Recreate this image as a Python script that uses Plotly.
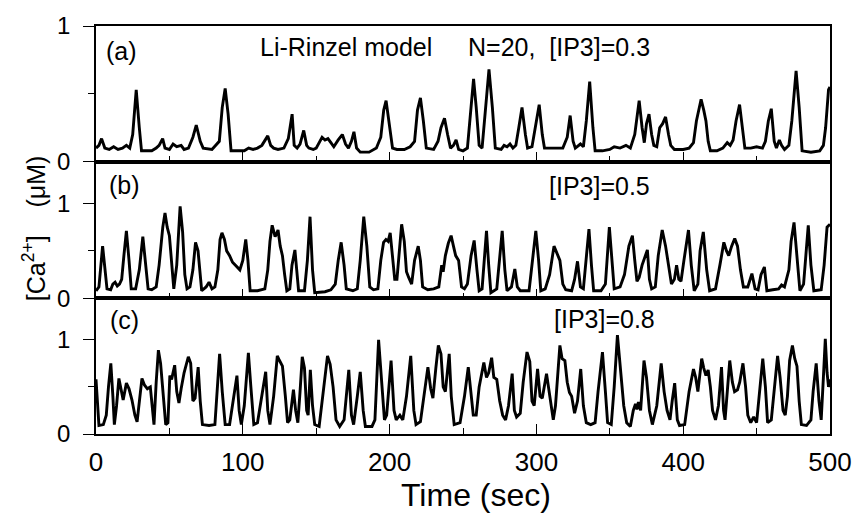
import plotly.graph_objects as go

# ---------------- data ----------------
t_a = [0, 2, 3.8, 6, 9, 12, 15, 18, 20.7, 23, 25, 27.4, 29.5, 31, 38, 41, 43, 45.4, 47, 50,
       52.5, 55, 58, 60, 63, 66, 68.3, 71, 73, 79, 84, 86, 88, 90, 92, 101, 104, 107, 110, 113,
       117, 119, 121, 124, 128, 131, 133.6, 135, 137, 139, 141.5, 143.5, 145, 148, 150, 152, 154,
       156, 158, 160, 162, 165, 167.8, 170, 172, 174, 175.7, 177.5, 180, 186, 191, 194, 196,
       197.6, 199, 201, 202, 205, 210, 214, 217, 219, 221, 223, 225, 230, 233, 235, 237.4, 239.5,
       241.5, 243.5, 245.3, 247, 250, 253, 255, 257.2, 259, 261, 263, 265, 267.7, 270, 272, 276,
       278, 280, 282, 284, 286, 288, 290.2, 292.5, 294, 297, 299, 301.9, 304, 305.5, 312, 318,
       321, 323, 325, 326.5, 330, 332, 334, 336.3, 338.5, 340, 345, 350, 353, 357, 361, 364,
       367, 370, 372, 373.5, 375, 376.7, 378.5, 380, 382, 384, 386, 388, 390, 391.5, 394, 400,
       404, 407, 409, 412.2, 414, 415.5, 417, 418.5, 423, 427, 430, 432, 434, 436, 438.4, 440.5,
       442, 446, 450, 454, 456, 458, 460, 462, 463.5, 465.5, 467, 469, 472, 474, 476.9, 479,
       481, 487, 493, 495.5, 497, 499, 500]
ca_a = [0.10, 0.12, 0.17, 0.10, 0.09, 0.11, 0.09, 0.10, 0.12, 0.10, 0.20, 0.53, 0.25, 0.08, 0.08,
        0.10, 0.12, 0.17, 0.10, 0.09, 0.13, 0.11, 0.12, 0.09, 0.10, 0.18, 0.27, 0.15, 0.10, 0.09,
        0.15, 0.40, 0.54, 0.35, 0.08, 0.08, 0.10, 0.09, 0.10, 0.12, 0.19, 0.12, 0.10, 0.09, 0.10,
        0.17, 0.35, 0.12, 0.10, 0.13, 0.23, 0.12, 0.10, 0.09, 0.10, 0.14, 0.18, 0.16, 0.17, 0.14,
        0.11, 0.16, 0.20, 0.13, 0.10, 0.15, 0.22, 0.10, 0.07, 0.07, 0.10, 0.18, 0.38, 0.45, 0.35,
        0.20, 0.10, 0.09, 0.09, 0.11, 0.15, 0.38, 0.47, 0.30, 0.10, 0.09, 0.15, 0.25, 0.32, 0.20,
        0.10, 0.12, 0.16, 0.09, 0.08, 0.10, 0.35, 0.61, 0.40, 0.12, 0.10, 0.35, 0.68, 0.40, 0.10,
        0.09, 0.12, 0.11, 0.13, 0.10, 0.12, 0.25, 0.40, 0.20, 0.10, 0.11, 0.25, 0.42, 0.20, 0.10,
        0.10, 0.10, 0.18, 0.34, 0.15, 0.10, 0.13, 0.11, 0.30, 0.59, 0.25, 0.08, 0.08, 0.09, 0.11,
        0.10, 0.12, 0.10, 0.20, 0.45, 0.25, 0.14, 0.28, 0.35, 0.20, 0.12, 0.11, 0.25, 0.28, 0.33,
        0.20, 0.12, 0.09, 0.09, 0.10, 0.14, 0.30, 0.46, 0.38, 0.30, 0.15, 0.08, 0.08, 0.10, 0.14,
        0.12, 0.16, 0.30, 0.42, 0.25, 0.10, 0.10, 0.11, 0.10, 0.15, 0.30, 0.39, 0.15, 0.10, 0.16,
        0.12, 0.09, 0.12, 0.30, 0.67, 0.40, 0.08, 0.07, 0.08, 0.12, 0.25, 0.53, 0.55]

t_b = [0, 2, 4.5, 6, 7.5, 10, 11.5, 13, 14.5, 16, 17.5, 19, 20.7, 22.5, 24, 27, 29.5, 31.9, 34,
       35.5, 38, 41, 43, 45.5, 47, 48.5, 50, 51.5, 53, 55, 57.3, 59, 60.5, 62, 64, 66, 67.8, 69.5,
       71, 72, 75, 77, 79, 81, 83, 84.5, 85.8, 87.5, 89, 91, 93, 94.8, 96.5, 98, 100, 102, 103.5,
       105, 110, 115, 117, 118.5, 120, 121, 122, 123, 124, 125.5, 127, 128.5, 130, 132, 133.5,
       135.5, 137, 138, 142, 144, 145.8, 147.5, 149, 156, 160, 163, 165, 167, 169, 170.5, 175,
       178, 180, 182.4, 184.5, 186.5, 189, 192, 194, 195.9, 197.5, 199, 200.4, 202, 203.5, 205,
       206.5, 208.2, 210, 211.5, 213, 215, 217, 219.5, 221, 222.5, 226, 230, 233.5, 235.5, 236.5,
       238, 240, 241.9, 243.5, 245, 247, 249, 251, 253, 255.5, 257.6, 259.5, 261, 263, 265, 266,
       267.5, 269, 273, 275, 276.7, 278.5, 280, 283, 285.3, 287, 289, 295, 297.5, 299.6, 301.5,
       303, 306, 309, 312, 314, 316, 318, 320, 324, 326, 328, 330, 332, 334, 335.8, 337.5, 339,
       344, 347, 349.7, 351.5, 353, 357, 360, 363, 365.4, 367, 368.5, 370, 372, 375.6, 377, 378.5,
       381, 383, 385.7, 388, 390, 392, 394, 395.5, 397, 398.5, 400.5, 403.6, 405.5, 407.5, 410,
       411.5, 413.7, 416, 418, 422, 425, 427.7, 429.5, 431, 433, 435.1, 437, 439, 441, 444, 446.8,
       449, 451, 453, 455.3, 457, 461, 465, 467, 469, 472, 473.5, 475.5, 477.5, 479.5, 482, 485.2,
       487, 489, 494, 496, 498, 500]
ca_b = [0.08, 0.12, 0.55, 0.30, 0.10, 0.09, 0.15, 0.17, 0.13, 0.15, 0.20, 0.45, 0.71, 0.40, 0.10,
        0.10, 0.30, 0.65, 0.35, 0.10, 0.09, 0.12, 0.35, 0.75, 0.90, 0.75, 0.66, 0.35, 0.10, 0.35,
        0.97, 0.70, 0.25, 0.10, 0.12, 0.30, 0.59, 0.50, 0.20, 0.08, 0.12, 0.17, 0.10, 0.12, 0.30,
        0.62, 0.69, 0.62, 0.50, 0.45, 0.38, 0.35, 0.33, 0.30, 0.40, 0.62, 0.40, 0.08, 0.08, 0.10,
        0.30, 0.60, 0.77, 0.70, 0.65, 0.68, 0.72, 0.55, 0.45, 0.25, 0.08, 0.10, 0.35, 0.51, 0.25,
        0.08, 0.08, 0.40, 0.86, 0.30, 0.06, 0.07, 0.09, 0.15, 0.40, 0.59, 0.35, 0.10, 0.08, 0.10,
        0.40, 0.86, 0.55, 0.12, 0.09, 0.10, 0.40, 0.59, 0.62, 0.60, 0.69, 0.45, 0.20, 0.20, 0.50,
        0.78, 0.60, 0.28, 0.22, 0.15, 0.40, 0.55, 0.40, 0.12, 0.09, 0.10, 0.12, 0.35, 0.28, 0.45,
        0.58, 0.66, 0.55, 0.45, 0.40, 0.12, 0.10, 0.15, 0.45, 0.61, 0.30, 0.08, 0.10, 0.50, 0.71,
        0.35, 0.06, 0.10, 0.45, 0.71, 0.30, 0.08, 0.12, 0.31, 0.12, 0.08, 0.08, 0.40, 0.71, 0.40,
        0.08, 0.10, 0.25, 0.55, 0.47, 0.40, 0.15, 0.09, 0.08, 0.20, 0.39, 0.12, 0.10, 0.45, 0.73,
        0.35, 0.08, 0.08, 0.15, 0.75, 0.35, 0.10, 0.12, 0.25, 0.55, 0.66, 0.40, 0.18, 0.22, 0.35,
        0.51, 0.20, 0.10, 0.12, 0.45, 0.72, 0.55, 0.35, 0.15, 0.20, 0.35, 0.20, 0.18, 0.40, 0.72,
        0.35, 0.08, 0.15, 0.50, 0.70, 0.30, 0.08, 0.10, 0.35, 0.59, 0.50, 0.45, 0.55, 0.63, 0.55,
        0.30, 0.12, 0.12, 0.26, 0.10, 0.09, 0.25, 0.33, 0.08, 0.09, 0.10, 0.14, 0.12, 0.30, 0.60,
        0.80, 0.40, 0.08, 0.15, 0.77, 0.35, 0.08, 0.09, 0.35, 0.75, 0.78]

t_c = [0, 1, 2, 5, 7, 8.5, 10.1, 11.5, 12.5, 14, 15.6, 17, 18.5, 20.7, 22.5, 24.5, 26.5, 28, 30,
       31.3, 33, 35, 37, 38.5, 39.5, 41, 42.5, 44, 46, 47.5, 49, 50.3, 51.5, 53.6, 55, 56.5, 58, 60,
       62.9, 64.5, 66, 67.5, 69.6, 71, 72.5, 77, 81, 82.5, 84.2, 86, 88, 91, 94, 96, 97.5, 99, 101,
       103.8, 105.5, 107.5, 110, 113, 115.6, 117, 118.5, 121, 123.5, 125, 127, 129, 130.5, 132,
       134.5, 136, 137.5, 139, 140.5, 142, 143.5, 144.5, 146, 147.5, 149, 152, 155, 157.7, 159.5,
       161.5, 163.5, 166, 169, 172.2, 174, 175.5, 178, 180, 182, 183.5, 188, 190, 192.5, 194.5,
       196.5, 198, 201, 203, 204.5, 207, 209, 211.5, 214.4, 216.5, 218, 221, 224, 226.1, 228, 229.5,
       231.5, 233.2, 235, 236.5, 238, 240.6, 242, 244, 248, 251, 253.6, 255.5, 257, 259, 261, 264.2,
       266, 267.5, 269.5, 271, 273, 275, 277, 279, 281, 283.5, 285, 286.5, 289, 291, 293.6, 295.5,
       297, 298.5, 300.8, 302.5, 304, 306.9, 308.5, 310, 311.5, 313, 316, 317.5, 319.4, 321, 322.5,
       324, 326, 328, 330.2, 332, 334, 337, 340, 342, 345, 347, 348.5, 351, 353, 355.2, 357, 359.5,
       361.5, 364, 366, 367.5, 368.5, 369.5, 371, 373.3, 375, 377, 379, 382, 385, 387, 389, 391,
       392.5, 394.2, 396, 397.5, 401, 404, 407, 408.5, 410, 411.5, 412.6, 414, 415.5, 417, 418.5,
       420, 422, 424, 426.1, 427.5, 428.5, 431.7, 433.5, 435, 437, 438.5, 440.7, 442.5, 444, 446,
       448, 450, 452, 454.2, 456, 457.5, 460, 462, 464.3, 466, 468, 469.5, 471, 472.5, 474.4, 476,
       477.5, 479, 480.5, 484, 487, 488.5, 490.6, 492.5, 494, 495.5, 496.8, 498, 499, 500]
ca_c = [0.58, 0.30, 0.09, 0.10, 0.20, 0.50, 0.75, 0.40, 0.10, 0.30, 0.59, 0.48, 0.36, 0.54, 0.48,
        0.36, 0.20, 0.13, 0.40, 0.59, 0.52, 0.48, 0.50, 0.20, 0.10, 0.55, 0.89, 0.75, 0.40, 0.10,
        0.12, 0.62, 0.58, 0.73, 0.45, 0.33, 0.48, 0.65, 0.82, 0.75, 0.35, 0.38, 0.71, 0.35, 0.10,
        0.09, 0.10, 0.50, 0.85, 0.45, 0.10, 0.10, 0.40, 0.62, 0.25, 0.10, 0.30, 0.86, 0.50, 0.10,
        0.12, 0.40, 0.66, 0.25, 0.10, 0.40, 0.83, 0.78, 0.72, 0.40, 0.12, 0.15, 0.47, 0.25, 0.12,
        0.45, 0.82, 0.70, 0.25, 0.20, 0.68, 0.30, 0.10, 0.08, 0.45, 0.83, 0.74, 0.50, 0.15, 0.08,
        0.15, 0.68, 0.20, 0.10, 0.40, 0.66, 0.25, 0.08, 0.08, 0.15, 1.00, 0.60, 0.15, 0.20, 0.78,
        0.25, 0.15, 0.20, 0.15, 0.40, 0.83, 0.25, 0.10, 0.13, 0.45, 0.71, 0.48, 0.38, 0.70, 0.94,
        0.85, 0.50, 0.45, 0.85, 0.40, 0.10, 0.12, 0.40, 0.71, 0.40, 0.20, 0.20, 0.50, 0.76, 0.60,
        0.65, 0.81, 0.60, 0.58, 0.35, 0.20, 0.15, 0.30, 0.64, 0.25, 0.18, 0.22, 0.55, 0.87, 0.77,
        0.35, 0.30, 0.69, 0.40, 0.38, 0.64, 0.45, 0.30, 0.15, 0.30, 0.94, 0.80, 0.78, 0.55, 0.44,
        0.40, 0.22, 0.35, 0.69, 0.30, 0.12, 0.10, 0.12, 0.45, 0.87, 0.45, 0.12, 0.10, 0.50, 1.05,
        0.75, 0.30, 0.12, 0.08, 0.25, 0.32, 0.26, 0.34, 0.25, 0.78, 0.60, 0.25, 0.10, 0.30, 0.75,
        0.45, 0.25, 0.15, 0.35, 0.54, 0.15, 0.09, 0.10, 0.45, 0.69, 0.60, 0.45, 0.65, 0.80, 0.70,
        0.62, 0.68, 0.50, 0.25, 0.15, 0.30, 0.71, 0.25, 0.15, 0.78, 0.55, 0.45, 0.47, 0.55, 0.75,
        0.50, 0.20, 0.12, 0.18, 0.12, 0.45, 0.80, 0.50, 0.12, 0.15, 0.50, 0.83, 0.60, 0.25, 0.20,
        0.40, 0.78, 0.94, 0.80, 0.72, 0.35, 0.10, 0.09, 0.15, 0.45, 0.75, 0.35, 0.15, 0.60, 1.01,
        0.65, 0.50, 0.58]

x_ticks = [0, 100, 200, 300, 400, 500]
y_ticks = [0, 1]
panel_labels = ["(a)", "(b)", "(c)"]
ip3_labels = ["N=20,\u00a0\u00a0[IP3]=0.3", "[IP3]=0.5", "[IP3]=0.8"]

# ---------------- figure ----------------
FONT = "Arial, Liberation Sans, sans-serif"
line = dict(color="black", width=2.9)

fig = go.Figure()
fig.add_trace(go.Scatter(x=t_c, y=ca_c, mode="lines", line=line, xaxis="x", yaxis="y"))
fig.add_trace(go.Scatter(x=t_b, y=ca_b, mode="lines", line=line, xaxis="x2", yaxis="y2"))
fig.add_trace(go.Scatter(x=t_a, y=ca_a, mode="lines", line=line, xaxis="x3", yaxis="y3"))

def xax(anchor, labels):
    return dict(domain=[0, 1], anchor=anchor, range=[0, 500], showline=True, mirror=True,
                linecolor="black", linewidth=1.6, ticks="inside", tickvals=x_ticks,
                ticklen=10, tickwidth=1.4, tickcolor="black", showgrid=False, zeroline=False,
                showticklabels=labels, ticklabelstandoff=4,
                tickfont=dict(family=FONT, size=26, color="black"),
                minor=dict(dtick=50, tick0=0, ticks="inside", ticklen=6, tickwidth=1.4,
                           tickcolor="black", showgrid=False))

def yax(anchor, dom, top):
    return dict(domain=dom, anchor=anchor, range=[0, top], showline=True, mirror=True,
                linecolor="black", linewidth=1.6, ticks="outside", tickvals=y_ticks,
                ticklen=11, tickwidth=1.4, tickcolor="black", showgrid=False, zeroline=False,
                tickfont=dict(family=FONT, size=24, color="black"), ticklabelstandoff=8,
                minor=dict(tickvals=[0.5], ticks="outside", ticklen=6, tickwidth=1.4,
                           tickcolor="black", showgrid=False))

fig.update_layout(
    width=864, height=516,
    margin=dict(l=96, r=26, t=25, b=82),
    plot_bgcolor="white", paper_bgcolor="white", showlegend=False,
    xaxis=xax("y", True),
    xaxis2=dict(xax("y2", False), matches="x"),
    xaxis3=dict(xax("y3", False), matches="x"),
    yaxis=yax("x", [0, 0.3325], 1.44),
    yaxis2=yax("x2", [0.3325, 0.6675], 1.44),
    yaxis3=yax("x3", [0.6675, 1.0], 1.0),
)

def ann(text, x, y, size=25, xanchor="center", **kw):
    fig.add_annotation(text=text, x=x, y=y, xref="paper", yref="paper", showarrow=False,
                       xanchor=xanchor, yanchor="middle",
                       font=dict(family=FONT, size=size, color="black"), **kw)

W, H, L, B = 742.0, 409.0, 96.0, 434.0
def px(x):
    return (x - L) / W
def py(y):
    return (B - y) / H

ann(panel_labels[0], px(122), py(50))
ann(panel_labels[1], px(125), py(184))
ann(panel_labels[2], px(125), py(320))
ann("Li-Rinzel model", px(349), py(46))
ann(ip3_labels[0], px(658), py(46), xanchor="right")
ann(ip3_labels[1], px(658), py(185), xanchor="right")
ann(ip3_labels[2], px(663), py(319), xanchor="right")
ann("Time (sec)", px(480), py(495), size=32)
ann("[Ca<sup>2+</sup>]\u00a0\u00a0\u00a0\u00a0(\u03bcM)", px(33), py(228), size=25, textangle=-90)

fig.write_html("out.html", config={"displayModeBar": False},
               post_script="document.body.style.margin='0px';")
